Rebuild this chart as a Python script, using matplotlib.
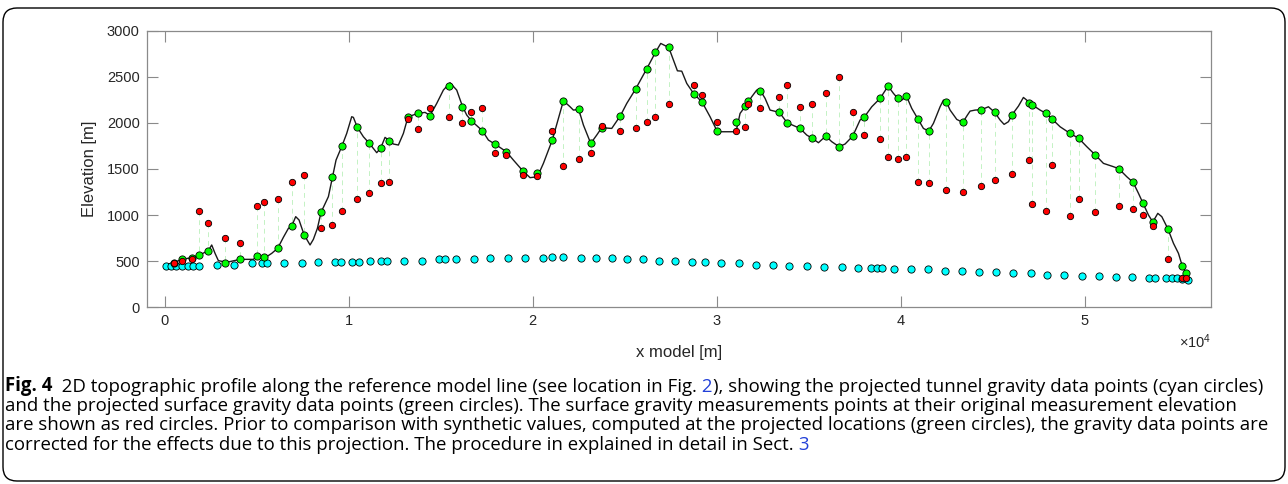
import matplotlib.pyplot as plt
from matplotlib.patches import FancyBboxPatch
import numpy as np

plt.rcParams['font.family'] = ['Liberation Sans', 'DejaVu Sans']
plt.rcParams['mathtext.fontset'] = 'custom'
plt.rcParams['mathtext.rm'] = 'Liberation Sans'

# topography along the model line
topo_x = [53, 505, 922, 1465, 1882, 2371, 2553, 2734, 2915, 3368, 4092, 4817, 5016, 5542,
          5814, 6140, 6448, 6720, 6901, 7118, 7299, 7571, 7897, 8078, 8296, 8495, 8894,
          9111, 9310, 9636, 9890, 10161, 10252, 10469, 10795, 11121, 11520, 11737, 11973,
          12208, 12426, 12698, 12970, 13223, 13766, 14147, 14419, 14781, 15143, 15506,
          15868, 16176, 16412, 16666, 17263, 17589, 17970, 18568, 18948, 19456, 19854,
          20253, 20579, 21068, 21394, 21666, 22028, 22209, 22499, 22753, 23151, 23477,
          23749, 24293, 24764, 25108, 25597, 26195, 26666, 26956, 27391, 27862, 28098,
          28370, 28750, 29202, 29636, 30035, 31050, 31267, 31558, 31902, 32173, 32355,
          32626, 32898, 33405, 33822, 34529, 34891, 35199, 35525, 35924, 36250, 36648,
          36974, 37391, 37788, 38007, 38424, 38877, 39312, 39602, 39837, 40055, 40308,
          40598, 40942, 41232, 41521, 41775, 42137, 42318, 42481, 42681, 43043, 43369,
          43623, 43768, 44039, 44384, 44764, 45108, 45398, 45616, 45851, 46050, 46395,
          46666, 46848, 46993, 47138, 47573, 47899, 48207, 48660, 49203, 49675, 50110,
          50581, 51015, 51559, 51849, 52284, 52628, 52918, 53171, 53461, 53697, 53969,
          54186, 54513, 54820, 55092, 55292, 55509, 55636]
topo_z = [459, 484, 520, 538, 567, 614, 676, 585, 506, 488, 520, 520, 556, 549,
          585, 640, 759, 856, 882, 983, 947, 788, 676, 737, 856, 1030, 1200,
          1409, 1597, 1752, 1886, 2067, 2060, 1951, 1850, 1778, 1677, 1727, 1843,
          1807, 1771, 1760, 1886, 2067, 2103, 2114, 2080, 2211, 2356, 2435,
          2356, 2182, 2085, 2023, 1915, 1814, 1767, 1687, 1597, 1481, 1406,
          1416, 1561, 1817, 2049, 2240, 2175, 2139, 2146, 1977, 1778, 1868,
          1948, 1940, 2078, 2211, 2370, 2587, 2764, 2862, 2818, 2565, 2561,
          2428, 2316, 2226, 2067, 1904, 1904, 2103, 2182, 2284, 2356, 2356,
          2266, 2139, 2114, 2002, 1940, 1868, 1832, 1785, 1857, 1796, 1742,
          1771, 1857, 2031, 2060, 2175, 2266, 2399, 2320, 2266, 2247, 2291,
          2157, 2038, 1940, 1911, 1995, 2175, 2247, 2226, 2139, 2038, 2005,
          2085, 2128, 2139, 2143, 2175, 2114, 2031, 1984, 2013, 2089, 2182,
          2276, 2247, 2211, 2197, 2139, 2103, 2045, 1958, 1886, 1832, 1742,
          1651, 1561, 1525, 1503, 1416, 1355, 1236, 1127, 1001, 925, 1019,
          983, 853, 694, 585, 452, 369, 296]

# tunnel gravity points (cyan)
tunnel_x = [50, 324, 596, 922, 1284, 1556, 1882, 2824, 3784, 4726, 5306, 5560, 6484,
            7444, 8313, 9255, 9582, 10197, 10542, 11140, 11755, 12082, 13024, 13966,
            14908, 15234, 15849, 16792, 17697, 18640, 19582, 20542, 21067, 21665,
            22625, 23422, 24292, 25125, 25977, 26864, 27734, 28640, 29364, 30252,
            31212, 32154, 33078, 33947, 34908, 35850, 36810, 37679, 38386, 38693,
            39001, 39617, 40560, 41466, 42426, 43314, 44237, 45161, 46103, 47063,
            47951, 48893, 49835, 50759, 51701, 52571, 53477, 53803, 54418, 54726,
            54998, 55270, 55632]
tunnel_z = [452, 452, 452, 452, 452, 452, 452, 459, 459, 477, 477, 477, 477,
            477, 491, 491, 491, 491, 491, 506, 506, 506, 506, 506,
            520, 520, 520, 520, 531, 531, 531, 531, 542, 548,
            531, 531, 531, 520, 520, 506, 506, 491, 491, 477,
            477, 463, 463, 452, 452, 441, 441, 426, 426, 426,
            426, 412, 412, 412, 397, 397, 383, 383, 369, 369,
            354, 354, 343, 343, 329, 329, 314, 314, 314, 314,
            314, 305, 296]

# surface gravity points: projected onto the line (green) and measured (red)
surf_x = [505, 922, 1465, 1882, 2371, 3295, 4092, 5016, 5397, 6140, 6901, 7571,
          8495, 9111, 9636, 10469, 11121, 11737, 12208, 13223, 13766, 14419,
          15452, 16176, 16666, 17263, 17970, 18568, 19456, 20253, 21068, 21666,
          22499, 23151, 23749, 24764, 25597, 26195, 26666, 27391, 28750, 29202,
          30035, 31050, 31558, 31685, 32355, 33405, 33822, 34529, 35199, 35924,
          36648, 37391, 38007, 38877, 39312, 39837, 40308, 40942, 41521, 42481,
          43369, 44384, 45108, 46050, 46993, 47138, 47899, 48207, 49203, 49675,
          50581, 51849, 52628, 53171, 53697, 54513, 55292, 55509]
surf_proj_z = [484, 520, 531, 567, 614, 477, 520, 556, 542, 640, 882, 788,
               1030, 1409, 1752, 1951, 1778, 1727, 1807, 2067, 2103, 2074,
               2399, 2172, 2023, 1915, 1767, 1687, 1481, 1460, 1817, 2240,
               2146, 1778, 1948, 2078, 2370, 2587, 2764, 2818, 2316, 2226,
               1915, 2005, 2182, 2240, 2345, 2114, 2002, 1940, 1832, 1857,
               1742, 1857, 2060, 2266, 2399, 2266, 2291, 2038, 1911, 2226,
               2005, 2143, 2114, 2089, 2211, 2197, 2103, 2045, 1886, 1832,
               1651, 1503, 1355, 1127, 925, 853, 452, 369]
surf_meas_z = [477, 506, 520, 1044, 911, 748, 694, 1098, 1138, 1178, 1359, 1438,
               856, 896, 1044, 1178, 1236, 1344, 1359, 2038, 1930, 2157,
               2063, 1995, 2117, 2157, 1677, 1651, 1438, 1424, 1915, 1532,
               1612, 1677, 1966, 1915, 1940, 2005, 2063, 2208, 2414, 2305,
               2005, 1915, 1951, 2208, 2157, 2280, 2414, 2172, 2208, 2320,
               2493, 2117, 1872, 1821, 1626, 1612, 1630, 1355, 1344, 1275,
               1247, 1315, 1380, 1449, 1597, 1124, 1044, 1547, 990, 1178,
               1030, 1098, 1066, 1001, 882, 520, 314, 314]

y_ticks = [0, 500, 1000, 1500, 2000, 2500, 3000]
x_ticks = [0, 10000, 20000, 30000, 40000, 50000]

# caption, one list of (text, weight, colour) pieces per line
link_blue = '#2240d8'
caption = [
    [('Fig. 4', 'bold', 'black'),
     ('  2D topographic profile along the reference model line (see location in Fig.', 'normal', 'black'),
     (' 2', 'normal', link_blue),
     ('), showing the projected tunnel gravity data points (cyan circles)', 'normal', 'black')],
    [('and the projected surface gravity data points (green circles). The surface gravity '
      'measurements points at their original measurement elevation', 'normal', 'black')],
    [('are shown as red circles. Prior to comparison with synthetic values, computed at the '
      'projected locations (green circles), the gravity data points are', 'normal', 'black')],
    [('corrected for the effects due to this projection. The procedure in explained in detail in Sect.',
      'normal', 'black'),
     (' 3', 'normal', link_blue)],
]
caption_baselines = [391.5, 411, 430.5, 450]

fig = plt.figure(figsize=(12.88, 4.84), dpi=100)

# frame and caption, drawn in pixel units
bg = fig.add_axes([0, 0, 1, 1])
bg.set_xlim(0, 1288)
bg.set_ylim(484, 0)
bg.axis('off')
bg.add_patch(FancyBboxPatch((3, 8), 1282, 473, boxstyle='round,pad=0,rounding_size=14',
                            fc='white', ec='black', lw=1.0))

for pieces, yb in zip(caption, caption_baselines):
    prev = None
    for text, weight, colour in pieces:
        kw = dict(fontsize=13.4, fontweight=weight, color=colour,
                  family=['Open Sans', 'DejaVu Sans'])
        if prev is None:
            prev = bg.text(5, yb, text, va='baseline', ha='left', **kw)
        else:
            prev = bg.annotate(text, xy=(1, 0), xycoords=prev, va='bottom', ha='left', **kw)

# profile
ax = fig.add_axes([146.7 / 1288, 1 - 307.3 / 484, (1211 - 146.7) / 1288, (307.3 - 30.7) / 484])
ax.vlines(surf_x, surf_meas_z, surf_proj_z, colors='#c4f2c4', linestyles=(0, (5, 4)),
          lw=0.7, zorder=1)
ax.plot(topo_x, topo_z, color='#1a1a1a', lw=1.0, zorder=2)
ax.scatter(tunnel_x, tunnel_z, s=27, c='#00ffff', edgecolors='black', linewidths=0.6, zorder=3)
ax.scatter(surf_x, surf_proj_z, s=27, c='#00ff00', edgecolors='black', linewidths=0.6, zorder=4)
ax.scatter(surf_x, surf_meas_z, s=21, c='#ff0000', edgecolors='black', linewidths=0.6, zorder=5)

ax.set_xlim(-980, 56860)
ax.set_ylim(0, 3000)
ax.set_xticks(x_ticks)
ax.set_yticks(y_ticks)
ax.ticklabel_format(axis='x', style='sci', scilimits=(4, 4), useMathText=True)
ax.tick_params(direction='in', length=7.6, width=0.8, color='#8a8a8a', top=True, right=True,
               labelsize=10.5, labelcolor='#262626', pad=5)
ax.xaxis.get_offset_text().set_fontsize(10.5)
ax.xaxis.get_offset_text().set_color('#262626')
for s in ax.spines.values():
    s.set_color('#8a8a8a')
    s.set_linewidth(0.9)
ax.set_xlabel('x model [m]', fontsize=12, color='#262626', labelpad=12)
ax.set_ylabel('Elevation [m]', fontsize=12, color='#262626', labelpad=7)

fig.savefig('out.png', dpi=100)
